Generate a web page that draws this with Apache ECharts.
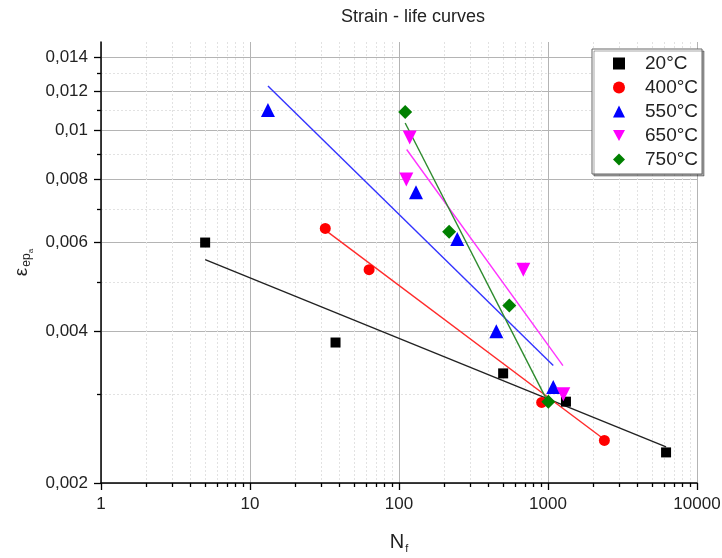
<!DOCTYPE html>
<html><head><meta charset="utf-8">
<script src="https://cdn.jsdelivr.net/npm/echarts@6/dist/echarts.min.js"></script>
<style>html,body{margin:0;padding:0;background:#fff}#c{width:722px;height:558px}</style>
</head><body><div id="c"></div>
<script>
const titleText = 'Strain - life curves';
const seriesNames = ['20°C', '400°C', '550°C', '650°C', '750°C'];

// measured points (cycles to failure, strain amplitude)
const cycles20 = [5, 37.5, 500, 1320, 6200];
const strain20 = [0.0060, 0.0038, 0.0033, 0.0029, 0.0023];
const cycles400 = [32, 63, 907, 2390];
const strain400 = [0.0064, 0.0053, 0.00289, 0.00243];
const cycles550 = [13.2, 130, 246, 450, 1085];
const strain550 = [0.0110, 0.00755, 0.0061, 0.0040, 0.0031];
const cycles650 = [118, 112, 683, 1267];
const strain650 = [0.0097, 0.0080, 0.0053, 0.0030];
const cycles750 = [110, 217, 550, 1005];
const strain750 = [0.0109, 0.0063, 0.0045, 0.0029];

// fitted line end points
const fitCycles20 = [5, 6200];
const fitStrain20 = [0.00555, 0.00236];
const fitCycles400 = [32, 2390];
const fitStrain400 = [0.00635, 0.00244];
const fitCycles550 = [13.2, 1085];
const fitStrain550 = [0.01227, 0.00342];
const fitCycles650 = [112.6, 1260];
const fitStrain650 = [0.00918, 0.00342];
const fitCycles750 = [110, 989];
const fitStrain750 = [0.01036, 0.00291];

// axis ticks
const xMajorTicks = [1, 10, 100, 1000, 10000];
const xMinorTicks = [2,3,4,5,6,7,8,9,20,30,40,50,60,70,80,90,200,300,400,500,600,700,800,900,2000,3000,4000,5000,6000,7000,8000,9000];
const yMajorTicks = [0.002, 0.004, 0.006, 0.008, 0.01, 0.012, 0.014];
const yMinorTicks = [0.003, 0.005, 0.007, 0.009, 0.011, 0.013];

const zip = (a, b) => a.map((v, i) => [v, b[i]]);

const pts = [
  [cycles20, strain20], [cycles400, strain400], [cycles550, strain550],
  [cycles650, strain650], [cycles750, strain750]
];
const fits = [
  [fitCycles20, fitStrain20], [fitCycles400, fitStrain400], [fitCycles550, fitStrain550],
  [fitCycles650, fitStrain650], [fitCycles750, fitStrain750]
];
const markColors = ['#000000', '#ff0000', '#0000ff', '#ff00ff', '#008000'];
const lineColors = ['#222222', '#ff2b2b', '#3333ff', '#ff33ff', '#2e8b2e'];
const symbols = ['rect', 'circle', 'triangle', 'triangle', 'diamond'];
const symbolSizes = [10, 11, 14, 14, 14];
const symbolRot = [0, 0, 0, 180, 0];
const legendIcons = ['rect', 'circle', 'triangle', 'path://M0,0 L10,0 L5,9 Z', 'diamond'];

const series = [];
fits.forEach((f, i) => {
  series.push({
    type: 'line', name: 'fit' + i, data: zip(f[0], f[1]),
    xAxisIndex: 0, yAxisIndex: 0,
    showSymbol: false, symbol: 'none', silent: true, z: 2,
    lineStyle: { color: lineColors[i], width: 1.4 }
  });
});
pts.forEach((p, i) => {
  series.push({
    type: 'scatter', name: seriesNames[i], data: zip(p[0], p[1]),
    xAxisIndex: 0, yAxisIndex: 0,
    symbol: symbols[i], symbolSize: symbolSizes[i], symbolRotate: symbolRot[i],
    itemStyle: { color: markColors[i], opacity: 1 }, z: 3
  });
});

const font = 'Liberation Sans, Arial, sans-serif';
const chart = echarts.init(document.getElementById('c'));
chart.setOption({
  animation: false,
  backgroundColor: '#fff',
  textStyle: { fontFamily: font },
  title: {
    text: titleText, left: 336, top: 3,
    textStyle: { fontSize: 18, fontWeight: 'normal', color: '#222', fontFamily: font }
  },
  grid: { left: 101, top: 42, width: 596, height: 441, containLabel: false, outerBoundsMode: 'none' },
  legend: {
    data: seriesNames.map((n, i) => ({ name: n, icon: legendIcons[i] })),
    orient: 'vertical', left: 592, top: 49,
    padding: [5, 4, 5, 21], itemGap: 5, itemWidth: 12, itemHeight: 12,
    symbolKeepAspect: true,
    backgroundColor: '#fff', borderColor: '#666', borderWidth: 1,
    shadowColor: 'rgba(0,0,0,0.35)', shadowOffsetX: 2, shadowOffsetY: 2, shadowBlur: 0,
    textStyle: { fontSize: 19, color: '#222', fontFamily: font, padding: [0, 0, 0, 15] }
  },
  xAxis: [{
    type: 'log', logBase: 10, min: 1, max: 10000, position: 'bottom',
    name: 'N{s|f}', nameLocation: 'middle', nameGap: 48,
    nameTextStyle: { fontSize: 20, color: '#222', fontFamily: font,
      rich: { s: { fontSize: 11, padding: [12, 0, 0, 1], color: '#222' } } },
    axisLine: { show: true, lineStyle: { color: '#000', width: 1.5 } },
    axisTick: { show: true, customValues: xMajorTicks, length: 7, lineStyle: { color: '#000', width: 1.3 } },
    axisLabel: { customValues: xMajorTicks, margin: 13, fontSize: 17, color: '#222', fontFamily: font,
      formatter: v => String(Math.round(v)) },
    splitLine: { show: true, lineStyle: { color: '#b4b4b4', width: 1 } }
  }, {
    type: 'log', logBase: 10, min: 1, max: 10000, position: 'bottom', gridIndex: 0,
    axisLine: { show: false },
    axisTick: { show: true, customValues: xMinorTicks, length: 4, lineStyle: { color: '#000', width: 1.3 } },
    axisLabel: { show: false },
    splitLine: { show: true, lineStyle: { color: '#e2e2e2', width: 1, type: [2, 2] } }
  }],
  yAxis: [{
    type: 'log', logBase: 10, min: 0.002, max: 0.015, position: 'left',
    name: 'ε{s|ep}{ss|a}', nameLocation: 'middle', nameGap: 66, nameRotate: 90,
    nameTextStyle: { fontSize: 19, color: '#222', fontFamily: font,
      rich: { s: { fontSize: 12, padding: [10, 0, 0, 1], color: '#222' },
              ss: { fontSize: 8, padding: [17, 0, 0, 0], color: '#222' } } },
    axisLine: { show: true, lineStyle: { color: '#000', width: 1.5 } },
    axisTick: { show: true, customValues: yMajorTicks, length: 7, lineStyle: { color: '#000', width: 1.3 } },
    axisLabel: { customValues: yMajorTicks, margin: 13, fontSize: 17, color: '#222', fontFamily: font,
      formatter: v => String(v).replace('.', ',') },
    splitLine: { show: true, lineStyle: { color: '#b4b4b4', width: 1 } }
  }, {
    type: 'log', logBase: 10, min: 0.002, max: 0.015, position: 'left', gridIndex: 0,
    axisLine: { show: false },
    axisTick: { show: true, customValues: yMinorTicks, length: 4, lineStyle: { color: '#000', width: 1.3 } },
    axisLabel: { show: false },
    splitLine: { show: true, lineStyle: { color: '#e2e2e2', width: 1, type: [2, 2] } }
  }],
  series: series
});
</script>
</body></html>
